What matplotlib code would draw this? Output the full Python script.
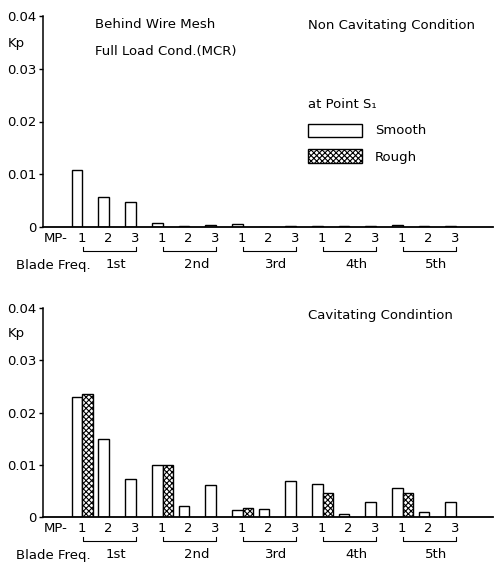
import matplotlib

matplotlib.use("Agg")

import matplotlib.pyplot as plt
import matplotlib.transforms as mtransforms
import numpy as np
from matplotlib.patches import Rectangle

# Kp per measuring point (MP 1-3) for each blade frequency harmonic
harmonics = ["1st", "2nd", "3rd", "4th", "5th"]
mp_labels = ["1", "2", "3"]

noncav_smooth = [0.0108, 0.0057, 0.0048,
                 0.0007, 0.0002, 0.0004,
                 0.0006, 0.0000, 0.0002,
                 0.0001, 0.0001, 0.0001,
                 0.0004, 0.0001, 0.0001]

cav_smooth = [0.0229, 0.0149, 0.0072,
              0.0099, 0.0022, 0.0061,
              0.0013, 0.0015, 0.0069,
              0.0063, 0.0005, 0.0028,
              0.0055, 0.0009, 0.0028]
# rough surface was only measured at MP 1
cav_rough_mp1 = [0.0236, 0.0099, 0.0017, 0.0045, 0.0045]

yticks = [0, 0.01, 0.02, 0.03, 0.04]
ytick_labels = ["0", "0.01", "0.02", "0.03", "0.04"]

W, H = 495, 562
FS = 9.5
PT = 72 / 100  # points per pixel at dpi 100

plt.rcParams["hatch.linewidth"] = 0.8


def fpos(x, y):
    return x / W, 1 - y / H


fig = plt.figure(figsize=(W / 100, H / 100), dpi=100)


def make_axes(top_px, bottom_px):
    ax = fig.add_axes([43 / W, 1 - bottom_px / H, 450 / W, (bottom_px - top_px) / H])
    ax.set_xlim(-1.45, 15.42)
    ax.set_ylim(0, 0.04)
    for s in ("top", "right"):
        ax.spines[s].set_visible(False)
    ax.spines["left"].set_linewidth(1.1)
    ax.spines["bottom"].set_linewidth(1.3)
    ax.set_xticks([])
    ax.set_yticks(yticks)
    ax.set_yticklabels(ytick_labels, fontsize=FS)
    ax.tick_params(axis="y", direction="out", length=3, width=1, pad=2)
    return ax


def below(ax, x, dy_px, text, xcoords="data", **kw):
    ax.annotate(text, xy=(x, 0), xycoords=(xcoords, "axes fraction"),
                xytext=(0, -dy_px * PT), textcoords="offset points",
                va="center", fontsize=FS, **kw)


def draw_xlabels(ax):
    for i in range(15):
        below(ax, i, 11, mp_labels[i % 3], ha="center")
    below(ax, 13 / 450, 11, "MP-", xcoords="axes fraction", ha="center")
    below(ax, -27 / 450, 38, "Blade Freq.", xcoords="axes fraction", ha="left")

    # x in data units, y in pixels measured from the axis line
    y0 = ax.get_position().y0 * H
    tf = mtransforms.blended_transform_factory(
        ax.transData, mtransforms.Affine2D().translate(0, y0))
    for g, name in enumerate(harmonics):
        x0, x1 = 3 * g + 0.05, 3 * g + 2.05
        ax.plot([x0, x0, x1, x1], [-20, -24, -24, -20], color="black", lw=0.8,
                transform=tf, clip_on=False)
        below(ax, 3 * g + 1.3, 38, name, ha="center")


pos = np.arange(15)
bar_kw = dict(width=0.4, facecolor="white", edgecolor="black", linewidth=1.0)

# non-cavitating condition
ax1 = make_axes(16, 227)
ax1.bar(pos - 0.17, noncav_smooth, **bar_kw)
draw_xlabels(ax1)

# cavitating condition
ax2 = make_axes(308, 517)
ax2.bar(pos - 0.17, cav_smooth, **bar_kw)
ax2.bar(pos[::3] + 0.23, cav_rough_mp1, hatch="xxxxxx", **bar_kw)
draw_xlabels(ax2)

# labels and annotations
fig.text(*fpos(8, 43), "Kp", fontsize=FS, va="center")
fig.text(*fpos(8, 333), "Kp", fontsize=FS, va="center")
fig.text(*fpos(95, 25), "Behind Wire Mesh", fontsize=FS, va="center")
fig.text(*fpos(95, 51), "Full Load Cond.(MCR)", fontsize=FS, va="center")
fig.text(*fpos(308, 25), "Non Cavitating Condition", fontsize=FS, va="center")
fig.text(*fpos(308, 315), "Cavitating Condintion", fontsize=FS, va="center")

# legend
fig.text(*fpos(308, 105), "at Point S\u2081", fontsize=FS, va="center")
fig.add_artist(Rectangle(fpos(308, 137), 54 / W, 13 / H, transform=fig.transFigure,
                         facecolor="white", edgecolor="black", lw=1.0))
fig.add_artist(Rectangle(fpos(308, 163), 54 / W, 14 / H, transform=fig.transFigure,
                         facecolor="white", edgecolor="black", lw=1.0, hatch="xxxxxx"))
fig.text(*fpos(375, 131), "Smooth", fontsize=FS, va="center")
fig.text(*fpos(375, 157), "Rough", fontsize=FS, va="center")

fig.savefig("out.png", dpi=100)
